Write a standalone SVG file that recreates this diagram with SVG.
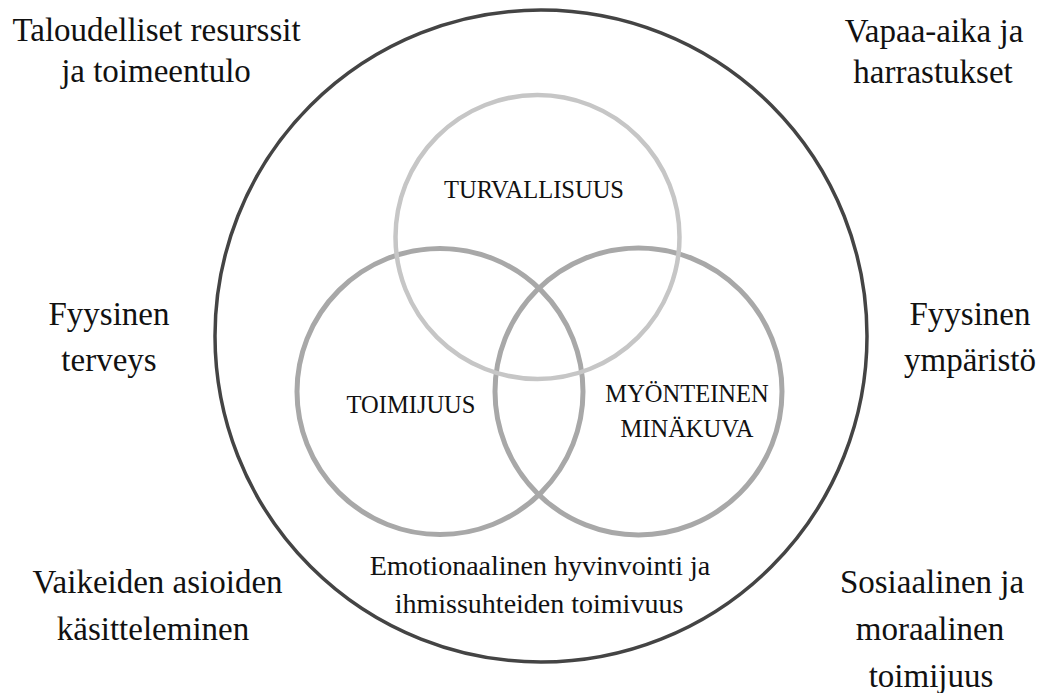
<svg xmlns="http://www.w3.org/2000/svg" width="1044" height="693" viewBox="0 0 1044 693">
<style>
.outer{fill:none;stroke:#444;stroke-width:3.5}
.top{fill:none;stroke:#c6c6c6;stroke-width:4.5}
.side{fill:none;stroke:#a8a8a8;stroke-width:5}
.lbl{font-family:"Liberation Serif","Times New Roman",serif;font-size:33px;fill:#111;text-anchor:middle}
.cap{font-family:"Liberation Serif","Times New Roman",serif;font-size:24.5px;fill:#111;text-anchor:middle}
.emo{font-family:"Liberation Serif","Times New Roman",serif;font-size:28px;fill:#111;text-anchor:middle}
</style>
<rect width="1044" height="693" fill="#fff"/>
<g id="outer-circle"><circle class="outer" cx="541" cy="336" r="326"/></g>
<g id="toimijuus"><circle class="side" cx="440" cy="391.5" r="143"/><text class="cap" x="411" y="413">TOIMIJUUS</text></g>
<g id="minakuva"><circle class="side" cx="638.5" cy="391.5" r="143.5"/><text class="cap" x="687" y="402">MYÖNTEINEN</text><text class="cap" x="687" y="437">MINÄKUVA</text></g>
<g id="turvallisuus"><circle class="top" cx="537.5" cy="237" r="142"/><text class="cap" x="534" y="198">TURVALLISUUS</text></g>
<g id="emotionaalinen"><text class="emo" x="540" y="575">Emotionaalinen hyvinvointi ja</text><text class="emo" x="539" y="613">ihmissuhteiden toimivuus</text></g>
<g id="taloudelliset"><text class="lbl" x="156.5" y="41">Taloudelliset resurssit</text><text class="lbl" x="156" y="82">ja toimeentulo</text></g>
<g id="vapaa-aika"><text class="lbl" x="934" y="42">Vapaa-aika ja</text><text class="lbl" x="933" y="83">harrastukset</text></g>
<g id="fyysinen-terveys"><text class="lbl" x="109" y="325">Fyysinen</text><text class="lbl" x="109" y="371">terveys</text></g>
<g id="fyysinen-ymparisto"><text class="lbl" x="970" y="325">Fyysinen</text><text class="lbl" x="970" y="371">ympäristö</text></g>
<g id="vaikeiden"><text class="lbl" x="157.5" y="593">Vaikeiden asioiden</text><text class="lbl" x="153" y="640">käsitteleminen</text></g>
<g id="sosiaalinen"><text class="lbl" x="932" y="593">Sosiaalinen ja</text><text class="lbl" x="930" y="640">moraalinen</text><text class="lbl" x="931" y="687">toimijuus</text></g>
<g id="connectors"></g>
</svg>
